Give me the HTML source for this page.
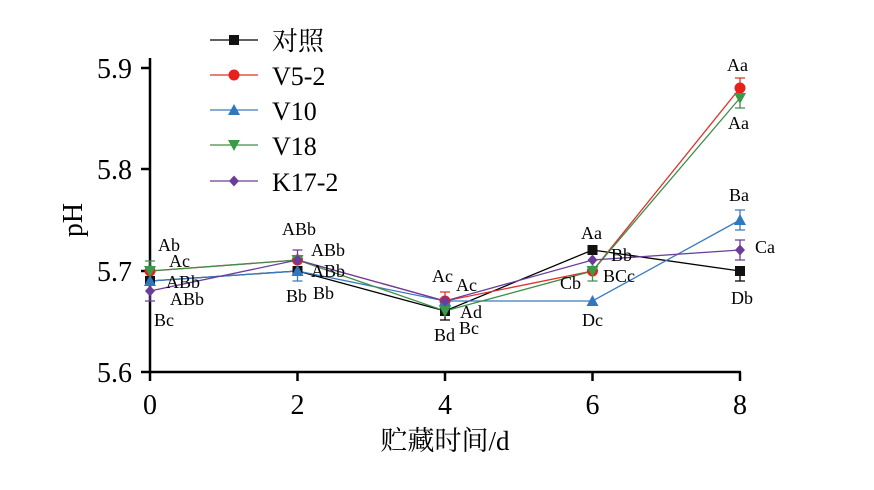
<!DOCTYPE html>
<html><head><meta charset="utf-8"><style>body{margin:0;background:#fff}</style></head><body>
<svg width="874" height="485" xmlns="http://www.w3.org/2000/svg" font-family="Liberation Serif, 'Noto Serif CJK SC', serif">
<g stroke="#000" stroke-width="2.5" fill="none">
<line x1="150" y1="58" x2="150" y2="373"/>
<line x1="149" y1="372" x2="741" y2="372"/>
<line x1="141" y1="68" x2="150" y2="68"/><line x1="141" y1="169" x2="150" y2="169"/>
<line x1="141" y1="271" x2="150" y2="271"/><line x1="141" y1="372" x2="150" y2="372"/>
<line x1="150" y1="372" x2="150" y2="381"/><line x1="297.5" y1="372" x2="297.5" y2="381"/>
<line x1="445" y1="372" x2="445" y2="381"/><line x1="592.5" y1="372" x2="592.5" y2="381"/>
<line x1="740" y1="372" x2="740" y2="381"/>
</g>
<g font-size="28" text-anchor="end"><text x="132" y="78">5.9</text><text x="132" y="179">5.8</text><text x="132" y="281">5.7</text><text x="132" y="382">5.6</text></g>
<g font-size="28" text-anchor="middle"><text x="150" y="414">0</text><text x="297.5" y="414">2</text><text x="445" y="414">4</text><text x="592.5" y="414">6</text><text x="740" y="414">8</text></g>
<text x="445" y="450" font-size="27" text-anchor="middle">贮藏时间/d</text>
<text transform="translate(82,220) rotate(-90)" font-size="28" text-anchor="middle">pH</text>
<g stroke-width="1.3" fill="none">
<polyline stroke="#000" points="150,281 297.5,271 445,311 592.5,250 740,271"/>
<polyline stroke="#e0302a" points="150,271 297.5,260 445,301 592.5,271 740,88"/>
<polyline stroke="#3a7bbf" points="150,281 297.5,271 445,301 592.5,301 740,220"/>
<polyline stroke="#3f8f4a" points="150,271 297.5,260 445,311 592.5,271 740,98"/>
<polyline stroke="#6a3d9a" points="150,291 297.5,260 445,301 592.5,260 740,250"/>
</g>
<g stroke-width="1.3">
<path stroke="#3f8f4a" d="M150,261V281M145,261h10"/><path stroke="#6a3d9a" d="M150,301V291M145,301h10M297.5,250V260M292.5,250h10"/>
<path stroke="#3a7bbf" d="M297.5,281V271M292.5,281h10"/><path stroke="#e0302a" d="M445,292V301M440,292h10"/>
<path stroke="#000" d="M445,320V311M440,320h10M740,281V271M735,281h10"/>
<path stroke="#e0302a" d="M740,78V88M735,78h10"/><path stroke="#3f8f4a" d="M740,108V98M735,108h10"/>
<path stroke="#3a7bbf" d="M740,210V230M735,210h10M735,230h10"/><path stroke="#6a3d9a" d="M740,240V260M735,240h10M735,260h10"/>
<path stroke="#3f8f4a" d="M592.5,281V271M587.5,281h10"/>
</g>
<defs>
<rect id="sq" x="-5" y="-5" width="10" height="10" fill="#111"/>
<circle id="ci" r="5.5" fill="#e8201c"/>
<path id="tr" d="M0,-6L6,5H-6Z" fill="#2f78c0"/>
<path id="tv" d="M0,6L6,-5H-6Z" fill="#3a9a48"/>
<path id="di" d="M0,-5.5L5,0L0,5.5L-5,0Z" fill="#6a3d9a"/>
</defs>
<g>
<use href="#sq" x="150" y="281"/><use href="#sq" x="297.5" y="271"/><use href="#sq" x="445" y="311"/><use href="#sq" x="592.5" y="250"/><use href="#sq" x="740" y="271"/>
<use href="#ci" x="150" y="271"/><use href="#ci" x="297.5" y="260"/><use href="#ci" x="445" y="301"/><use href="#ci" x="592.5" y="271"/><use href="#ci" x="740" y="88"/>
<use href="#tr" x="150" y="281"/><use href="#tr" x="297.5" y="271"/><use href="#tr" x="445" y="301"/><use href="#tr" x="592.5" y="301"/><use href="#tr" x="740" y="220"/>
<use href="#tv" x="150" y="271"/><use href="#tv" x="297.5" y="260"/><use href="#tv" x="445" y="311"/><use href="#tv" x="592.5" y="271"/><use href="#tv" x="740" y="98"/>
<use href="#di" x="150" y="291"/><use href="#di" x="297.5" y="260"/><use href="#di" x="445" y="301"/><use href="#di" x="592.5" y="260"/><use href="#di" x="740" y="250"/>
</g>
<g font-size="18">
<text x="158" y="251">Ab</text><text x="169" y="267">Ac</text><text x="166" y="288">ABb</text><text x="170" y="305">ABb</text><text x="154" y="326">Bc</text>
<text x="282" y="235">ABb</text><text x="311" y="256">ABb</text><text x="311" y="277">ABb</text><text x="286" y="302">Bb</text><text x="313" y="299">Bb</text>
<text x="432" y="282">Ac</text><text x="456" y="291">Ac</text><text x="460" y="318">Ad</text><text x="434" y="341">Bd</text><text x="459" y="334">Bc</text>
<text x="581" y="239">Aa</text><text x="611" y="261">Bb</text><text x="603" y="282">BCc</text><text x="560" y="289">Cb</text><text x="582" y="326">Dc</text>
<text x="727" y="71">Aa</text><text x="728" y="129">Aa</text><text x="729" y="201">Ba</text><text x="755" y="253">Ca</text><text x="731" y="304">Db</text>
</g>
<g stroke-width="1.3">
<line x1="210" y1="40" x2="258" y2="40" stroke="#000"/><use href="#sq" x="234" y="40"/>
<line x1="210" y1="75" x2="258" y2="75" stroke="#e0302a"/><use href="#ci" x="234" y="75"/>
<line x1="210" y1="110" x2="258" y2="110" stroke="#3a7bbf"/><use href="#tr" x="234" y="110"/>
<line x1="210" y1="145" x2="258" y2="145" stroke="#3f8f4a"/><use href="#tv" x="234" y="145"/>
<line x1="210" y1="181" x2="258" y2="181" stroke="#6a3d9a"/><use href="#di" x="234" y="181"/>
</g>
<g font-size="26">
<text x="272" y="50">对照</text><text x="272" y="85">V5-2</text><text x="272" y="120">V10</text><text x="272" y="155">V18</text><text x="272" y="191">K17-2</text>
</g>
</svg>
</body></html>
